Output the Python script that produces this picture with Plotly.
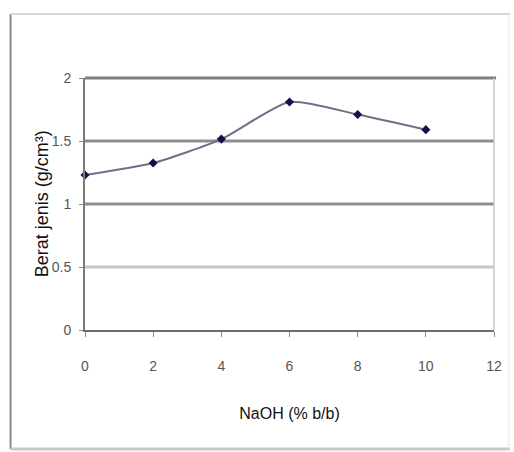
import plotly.graph_objects as go

naoh = [0, 2, 4, 6, 8, 10]
berat_jenis = [1.23, 1.325, 1.515, 1.81, 1.71, 1.59]
x_ticks = [0, 2, 4, 6, 8, 10, 12]
y_ticks = [0, 0.5, 1, 1.5, 2]
y_tick_text = ["0", "0.5", "1", "1.5", "2"]
grid_vals = [0.5, 1, 1.5]
grid_colors = ["#c6c6c6", "#8e8e8e", "#8e8e8e"]

W, H = 514, 452
L, R, T, B = 85, 17, 78, 122
pw, ph = W - L - R, H - T - B

def px(x):
    return (x - L) / pw

def py(y):
    return (H - B - y) / ph

fig = go.Figure()
fig.add_trace(go.Scatter(
    x=naoh, y=berat_jenis, mode="lines+markers",
    line=dict(color="#6f6f86", width=2, shape="spline", smoothing=0.6),
    marker=dict(symbol="diamond", size=7, color="#10104a"),
    showlegend=False, cliponaxis=False,
))

shapes = []
for v, c in zip(grid_vals, grid_colors):
    shapes.append(dict(type="line", xref="paper", yref="y", x0=0, x1=1, y0=v, y1=v,
                       line=dict(color=c, width=3), layer="below"))
shapes += [
    # top gridline (value 2) at the plot-area top edge
    dict(type="line", xref="paper", yref="paper", x0=0, x1=1.005, y0=1, y1=1,
         line=dict(color="#7e7e7e", width=3)),
    dict(type="line", xref="paper", yref="paper", x0=1, x1=1, y0=0, y1=1,
         line=dict(color="#c8c8c8", width=1.5)),
    dict(type="line", xref="paper", yref="paper", x0=px(10), x1=px(10), y0=py(449), y1=py(14),
         line=dict(color="#8a8a8a", width=2)),
    dict(type="line", xref="paper", yref="paper", x0=px(10), x1=px(513), y0=py(14), y1=py(14),
         line=dict(color="#d8d8d8", width=2)),
    dict(type="line", xref="paper", yref="paper", x0=px(10), x1=px(513), y0=py(449), y1=py(449),
         line=dict(color="#c8c8c8", width=3)),
    dict(type="line", xref="paper", yref="paper", x0=px(512), x1=px(512), y0=py(449), y1=py(14),
         line=dict(color="#e6e6e6", width=1)),
]

font = "Liberation Sans, Arial, sans-serif"
fig.update_layout(
    width=W, height=H,
    margin=dict(l=L, r=R, t=T, b=B),
    paper_bgcolor="white", plot_bgcolor="white",
    font=dict(family=font, size=14, color="#333"),
    xaxis=dict(
        range=[0, 12], tickvals=x_ticks, showgrid=False, zeroline=False,
        showline=True, linecolor="#6e6e6e", linewidth=2,
        ticks="outside", ticklen=5, tickcolor="#8a8a8a", tickwidth=1,
        tickfont=dict(size=14, color="#555"), ticklabelstandoff=17,
        title=dict(text="NaOH (% b/b)", font=dict(size=16, color="#111"), standoff=35),
    ),
    yaxis=dict(
        range=[0, 2], tickvals=y_ticks, ticktext=y_tick_text,
        showgrid=False, zeroline=False,
        showline=True, linecolor="#7a7a7a", linewidth=2,
        ticks="outside", ticklen=4, tickcolor="#8a8a8a", tickwidth=1,
        tickfont=dict(size=14, color="#555"), ticklabelstandoff=5,
    ),
    annotations=[dict(
        text="Berat jenis (g/cm³)", textangle=-90, showarrow=False,
        xref="paper", yref="paper", x=px(42), y=0.5, xanchor="center", yanchor="middle",
        font=dict(size=18, color="#111"),
    )],
    shapes=shapes,
)

fig.write_html("out.html")
